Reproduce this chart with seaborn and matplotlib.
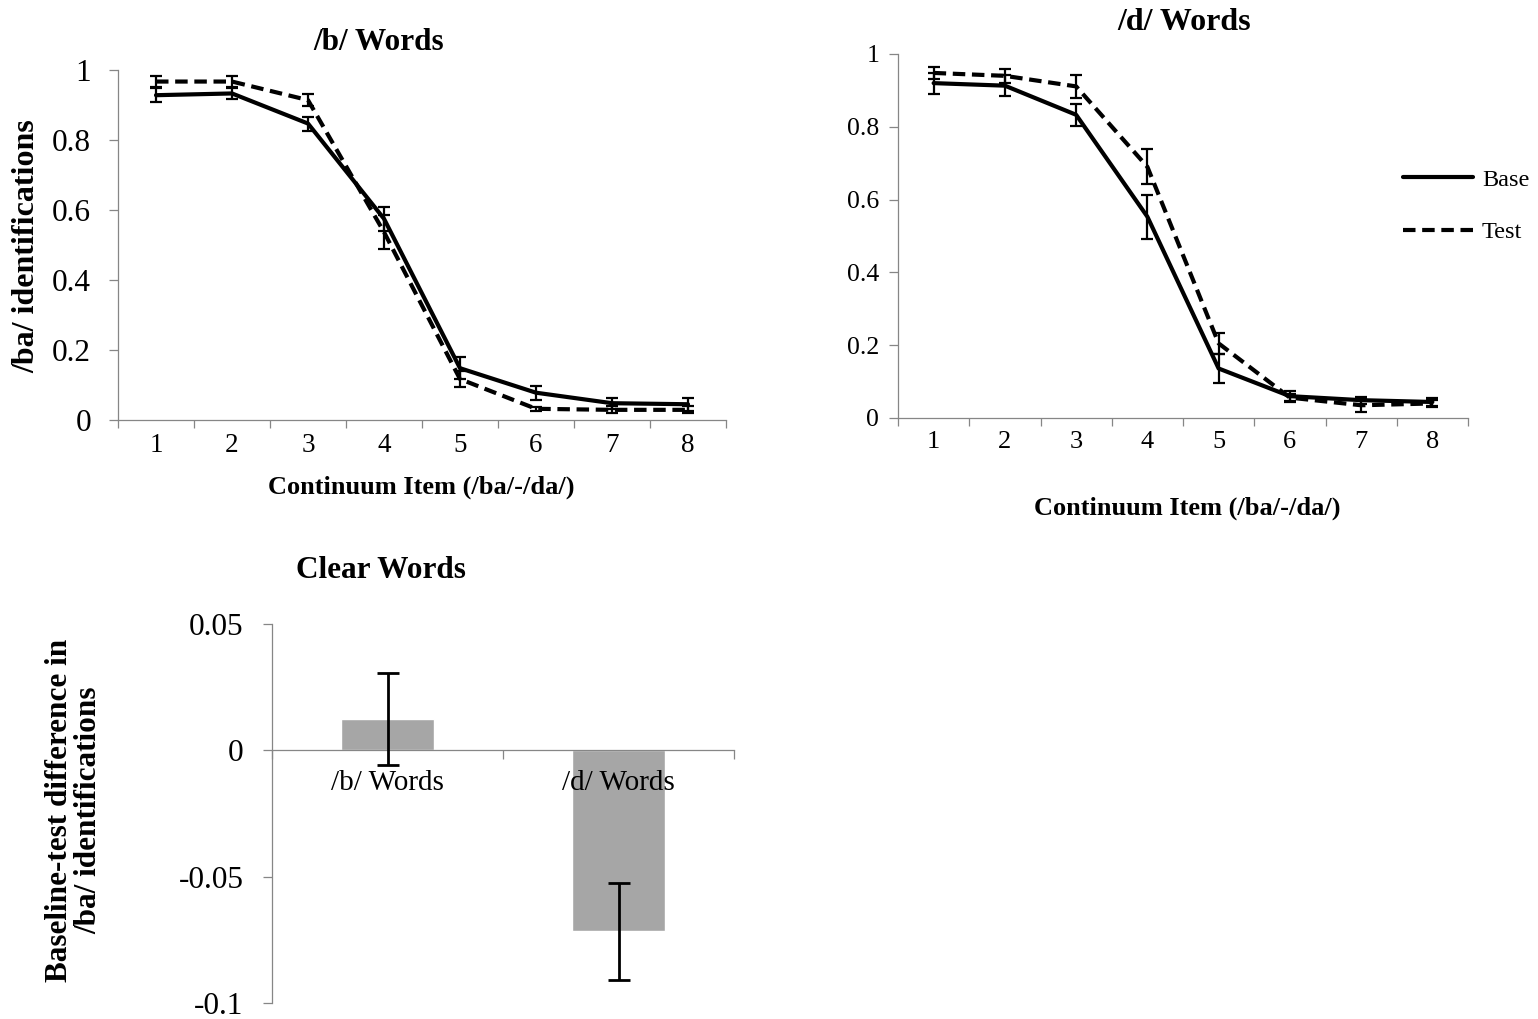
import numpy as np
import pandas as pd
import matplotlib.pyplot as plt
import seaborn as sns

# ------------------------------------------------------------------
# data
# ------------------------------------------------------------------
items = [1, 2, 3, 4, 5, 6, 7, 8]
conditions = ['Base', 'Test']

# /b/ words
b_base = [0.928, 0.933, 0.847, 0.575, 0.148, 0.078, 0.048, 0.045]
b_base_err = [0.02, 0.015, 0.02, 0.035, 0.032, 0.02, 0.016, 0.018]
b_test = [0.967, 0.967, 0.914, 0.537, 0.117, 0.032, 0.029, 0.029]
b_test_err = [0.015, 0.015, 0.018, 0.048, 0.022, 0.005, 0.01, 0.01]

# /d/ words
d_base = [0.92, 0.913, 0.833, 0.553, 0.136, 0.06, 0.049, 0.044]
d_base_err = [0.029, 0.028, 0.031, 0.06, 0.041, 0.015, 0.01, 0.012]
d_test = [0.948, 0.94, 0.911, 0.69, 0.205, 0.056, 0.035, 0.04]
d_test_err = [0.016, 0.019, 0.032, 0.048, 0.028, 0.01, 0.018, 0.01]

# clear words: baseline - test difference
bar_cats = ['/b/ Words', '/d/ Words']
bar_diff = [0.0124, -0.0717]
bar_err = [0.0183, 0.019]

line_yticks = [0, 0.2, 0.4, 0.6, 0.8, 1]
line_yticklabels = ['0', '0.2', '0.4', '0.6', '0.8', '1']
bar_yticks = [-0.1, -0.05, 0, 0.05]
bar_yticklabels = ['-0.1', '-0.05', '0', '0.05']

# ------------------------------------------------------------------
# style
# ------------------------------------------------------------------
sns.set_theme(style='ticks')
plt.rcParams['font.family'] = ['Liberation Serif', 'DejaVu Serif']
plt.rcParams['axes.unicode_minus'] = False
plt.rcParams['text.color'] = 'black'
plt.rcParams['xtick.labelcolor'] = 'black'
plt.rcParams['ytick.labelcolor'] = 'black'

AXIS_GREY = '#868686'
BAR_GREY = '#A6A6A6'
W, H = 1538, 1019

fig = plt.figure(figsize=(W / 100, H / 100), dpi=100)


def px_axes(x0, y0, x1, y1):
    return fig.add_axes([x0 / W, 1 - y1 / H, (x1 - x0) / W, (y1 - y0) / H])


def px_text(x, y, s, **kw):
    fig.text(x / W, 1 - y / H, s, ha='center', va='center', color='black', **kw)


def style_axes(ax):
    for side in ['top', 'right']:
        ax.spines[side].set_visible(False)
    for side in ['left', 'bottom']:
        ax.spines[side].set_color(AXIS_GREY)
        ax.spines[side].set_linewidth(0.9)


def line_panel(ax, base, base_err, test, test_err, ytick_size, ypad, xtick_size):
    df = pd.DataFrame({
        'item': items * 2,
        'prop': base + test,
        'condition': ['Base'] * len(items) + ['Test'] * len(items),
    })
    sns.lineplot(data=df, x='item', y='prop', style='condition',
                 dashes={'Base': '', 'Test': (3, 1.6)}, color='black',
                 linewidth=3.0, legend=False, ax=ax)
    for ln in ax.lines:
        ln.set_solid_capstyle('round')
    for vals, errs in [(base, base_err), (test, test_err)]:
        ax.errorbar(items, vals, yerr=errs, fmt='none', ecolor='black',
                    elinewidth=1.6, capsize=4.5, capthick=1.6, zorder=3)
    style_axes(ax)
    ax.set_xlim(0.5, 8.5)
    ax.set_ylim(0, 1)
    ax.set_yticks(line_yticks)
    ax.set_yticklabels(line_yticklabels)
    ax.set_xticks(items)
    ax.set_xticklabels([str(i) for i in items])
    ax.set_xticks(np.arange(0.5, 9, 1), minor=True)
    ax.tick_params(axis='y', direction='out', length=6.5, width=0.9,
                   color=AXIS_GREY, labelsize=ytick_size, pad=ypad)
    ax.tick_params(axis='x', which='major', length=0, labelsize=xtick_size, pad=9)
    ax.tick_params(axis='x', which='minor', direction='out', length=5.5,
                   width=0.9, color=AXIS_GREY)
    ax.set_xlabel('')
    ax.set_ylabel('')
    return ax


# ------------------------------------------------------------------
# /b/ words
# ------------------------------------------------------------------
ax1 = px_axes(118, 70, 726, 420)
line_panel(ax1, b_base, b_base_err, b_test, b_test_err, 22.5, 13, 19.5)
px_text(379, 42, '/b/ Words', fontsize=22.5, fontweight='bold')
px_text(421, 487, 'Continuum Item (/ba/-/da/)', fontsize=19, fontweight='bold')
px_text(27, 246, '/ba/ identifications', fontsize=23, fontweight='bold', rotation=90)

# ------------------------------------------------------------------
# /d/ words
# ------------------------------------------------------------------
ax2 = px_axes(898, 54, 1468, 418)
line_panel(ax2, d_base, d_base_err, d_test, d_test_err, 18.5, 7, 19)
px_text(1184, 22, '/d/ Words', fontsize=23, fontweight='bold')
px_text(1187, 508, 'Continuum Item (/ba/-/da/)', fontsize=19, fontweight='bold')

ax2.legend(ax2.lines[:2], conditions, loc='center left',
           bbox_to_anchor=(1403 / W, 1 - 206 / H), bbox_transform=fig.transFigure,
           frameon=False, fontsize=17.5, handlelength=2.9, handletextpad=0.35,
           labelspacing=1.25, borderpad=0, borderaxespad=0)

# ------------------------------------------------------------------
# clear words (difference bars)
# ------------------------------------------------------------------
ax3 = px_axes(272, 624, 734, 1003)
sns.barplot(x=bar_cats, y=bar_diff, color=BAR_GREY, saturation=1, width=0.4,
            errorbar=None, ax=ax3)
ax3.errorbar([0, 1], bar_diff, yerr=bar_err, fmt='none', ecolor='black',
             elinewidth=2, capsize=8, capthick=2, zorder=3)
style_axes(ax3)
ax3.set_axisbelow(False)
ax3.spines['bottom'].set_position(('data', 0))
ax3.set_xlim(-0.5, 1.5)
ax3.set_ylim(-0.1, 0.05)
ax3.set_yticks(bar_yticks)
ax3.set_yticklabels(bar_yticklabels)
ax3.set_xticks([0, 1])
ax3.set_xticklabels(bar_cats)
ax3.set_xticks([-0.5, 0.5, 1.5], minor=True)
ax3.tick_params(axis='y', direction='out', length=6.5, width=0.9,
                color=AXIS_GREY, labelsize=22.5, pad=14)
ax3.tick_params(axis='x', which='major', length=0, labelsize=21, pad=14)
ax3.tick_params(axis='x', which='minor', direction='out', length=6.5,
                width=0.9, color=AXIS_GREY)
ax3.set_xlabel('')
ax3.set_ylabel('')
px_text(381, 571, 'Clear Words', fontsize=22.5, fontweight='bold')
px_text(74, 810, 'Baseline-test difference in\n/ba/ identifications', fontsize=22.5,
        fontweight='bold', rotation=90, linespacing=1.0, multialignment='center')

fig.savefig('out.png', dpi=100)
